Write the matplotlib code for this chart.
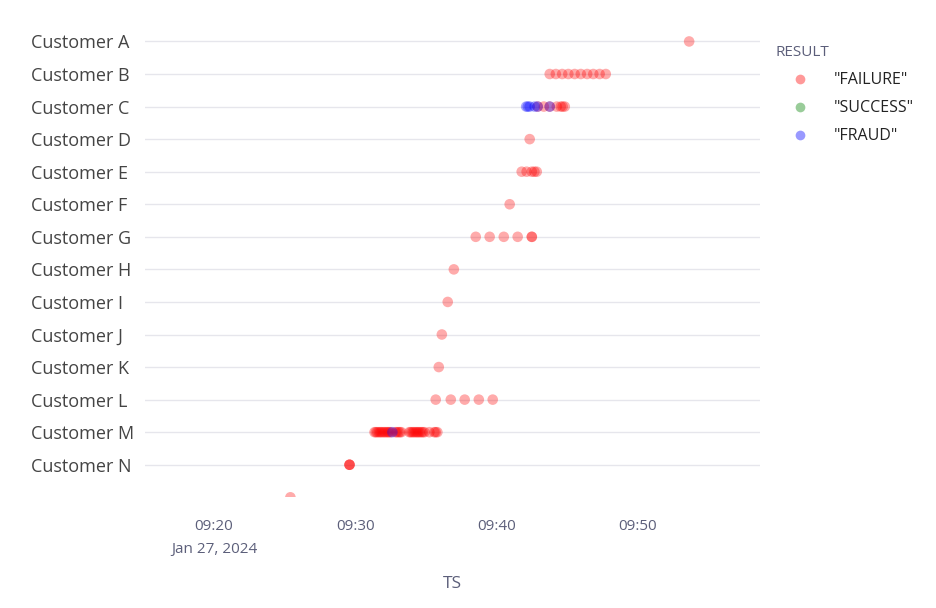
import matplotlib
matplotlib.use("Agg")
import matplotlib.pyplot as plt
import matplotlib.dates as mdates
from matplotlib.lines import Line2D
import pandas as pd

# rows top to bottom; last row has no name
customers = ["Customer A", "Customer B", "Customer C", "Customer D", "Customer E",
             "Customer F", "Customer G", "Customer H", "Customer I", "Customer J",
             "Customer K", "Customer L", "Customer M", "Customer N", ""]

results = ['"FAILURE"', '"SUCCESS"', '"FRAUD"']
result_colors = {'"FAILURE"': "#ff0000", '"SUCCESS"': "#008000", '"FRAUD"': "#0000ff"}

# times per customer
failure_pts = {
    "Customer A": ["09:53:37"],
    "Customer B": ["09:43:45", "09:44:11", "09:44:38", "09:45:04", "09:45:31",
                   "09:45:57", "09:46:24", "09:46:50", "09:47:17", "09:47:43"],
    "Customer C": ["09:42:54", "09:43:20", "09:43:45", "09:44:15", "09:44:32",
                   "09:44:49", "09:44:40"],
    "Customer D": ["09:42:20"],
    "Customer E": ["09:41:46", "09:42:07", "09:42:29", "09:42:50", "09:42:40"],
    "Customer F": ["09:40:55"],
    "Customer G": ["09:38:31", "09:39:30", "09:40:30", "09:41:29", "09:42:29", "09:42:29"],
    "Customer H": ["09:36:58"],
    "Customer I": ["09:36:32"],
    "Customer J": ["09:36:07"],
    "Customer K": ["09:35:54"],
    "Customer L": ["09:35:41", "09:36:45", "09:37:44", "09:38:44", "09:39:43"],
    "Customer M": ["09:31:21", "09:31:27", "09:31:33", "09:31:40", "09:31:46", "09:31:52",
                   "09:31:59", "09:32:05", "09:32:12", "09:32:18", "09:32:24", "09:32:30",
                   "09:32:50", "09:32:56", "09:33:03", "09:33:09", "09:33:15",
                   "09:33:49", "09:33:55", "09:34:02", "09:34:08", "09:34:15", "09:34:21",
                   "09:34:27", "09:34:33", "09:34:40", "09:34:46", "09:34:53",
                   "09:35:14", "09:35:35", "09:35:41", "09:35:48"],
    "Customer N": ["09:29:35", "09:29:35", "09:29:35"],
    "": ["09:25:24"],
}
fraud_pts = {
    "Customer C": ["09:42:05", "09:42:12", "09:42:20", "09:42:41", "09:42:54", "09:43:45"],
    "Customer M": ["09:32:37"],
}

rows = []
for c, ts in failure_pts.items():
    for t in ts:
        rows.append((c, "2024-01-27 " + t, '"FAILURE"'))
for c, ts in fraud_pts.items():
    for t in ts:
        rows.append((c, "2024-01-27 " + t, '"FRAUD"'))
df = pd.DataFrame(rows, columns=["CUSTOMER", "TS", "RESULT"])
df["TS"] = pd.to_datetime(df["TS"])
df["Y"] = df["CUSTOMER"].map({c: i for i, c in enumerate(customers)})

plt.rcParams["font.family"] = ["Open Sans", "DejaVu Sans"]

fig = plt.figure(figsize=(9.36, 6.08), dpi=100)
ax = fig.add_axes([0.155, 0.1826, 0.657, 0.776])

for r in results:
    sub = df[df["RESULT"] == r]
    if len(sub):
        ax.scatter(sub["TS"], sub["Y"], s=58, color=result_colors[r], alpha=0.33,
                   edgecolors="none", zorder=3)

ax.set_yticks(range(len(customers)))
ax.set_yticklabels(customers, fontsize=13, color="#444444", ha="left")
ax.set_ylim(13.99, -0.5)
ax.set_xlim(pd.Timestamp("2024-01-27 09:15:07"), pd.Timestamp("2024-01-27 09:58:38"))

ax.xaxis.set_major_locator(mdates.MinuteLocator(byminute=[0, 10, 20, 30, 40, 50]))
def fmt(x, pos):
    d = mdates.num2date(x)
    s = d.strftime("%H:%M")
    if d.minute == 20:
        s += "\nJan 27, 2024"
    return s
ax.xaxis.set_major_formatter(plt.FuncFormatter(fmt))
for lbl in ax.get_xticklabels():
    lbl.set_linespacing(1.75)
ax.tick_params(axis="x", colors="#5c5f7a", labelsize=11, length=0, pad=16)
ax.tick_params(axis="y", length=0, pad=82)
ax.grid(axis="y", color="#e6e6ec", linewidth=1, zorder=0)
ax.grid(axis="x", visible=False)
for sp in ax.spines.values():
    sp.set_visible(False)
ax.set_xlabel("TS", fontsize=12.5, color="#5c5f7a", labelpad=13)

handles = [Line2D([], [], marker="o", linestyle="none", markersize=7,
                  markerfacecolor=result_colors[r], markeredgecolor="none", alpha=0.4)
           for r in results]
leg = fig.legend(handles, results, title="RESULT", loc="upper left",
                 bbox_to_anchor=(0.822, 0.936), frameon=False, fontsize=11.5,
                 title_fontsize=11, labelspacing=0.75, handletextpad=0.6,
                 handlelength=3.0, borderaxespad=0)
leg.get_title().set_color("#5c5f7a")
leg._legend_box.align = "left"
for t in leg.get_texts():
    t.set_color("#222222")

fig.savefig("out.png", dpi=100)
